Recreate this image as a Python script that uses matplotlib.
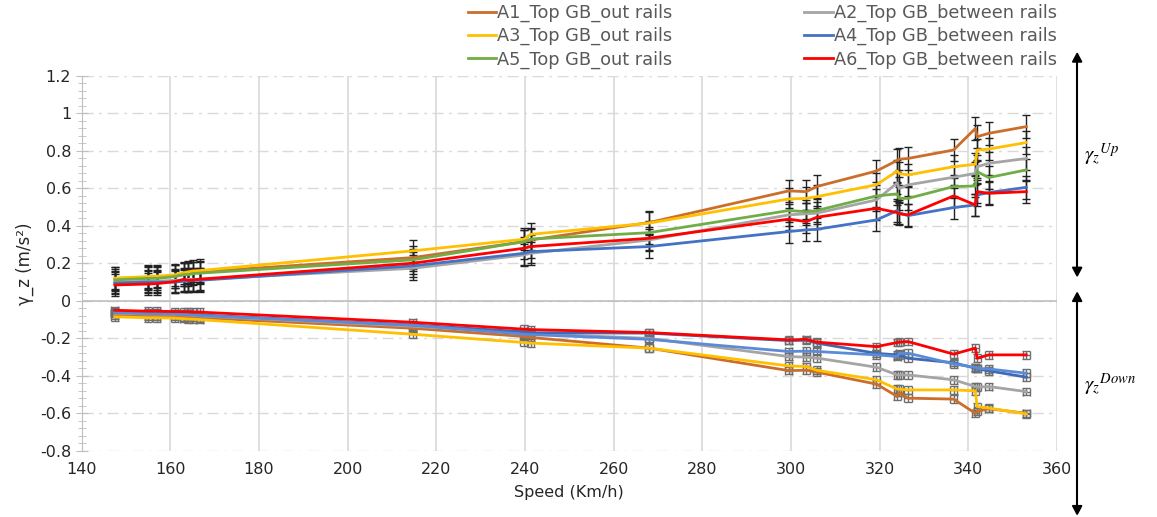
import matplotlib.pyplot as plt
import numpy as np

# speeds (km/h) of the measured runs
speed = [147.5, 155, 157, 161, 163, 164, 165.2, 166.7, 214.7, 239.8, 241.3, 268,
         299.5, 303.5, 305.8, 319.3, 324.0, 324.4, 326.4, 336.7, 341.6, 342.0, 344.6, 353.1]

# upward acceleration
a1_up = [0.12, 0.125, 0.127, 0.13, 0.14, 0.15, 0.15, 0.155, 0.231, 0.316, 0.325, 0.418,
         0.587, 0.583, 0.61, 0.693, 0.75, 0.756, 0.76, 0.805, 0.92, 0.876, 0.894, 0.93]
a2_up = [0.10, 0.105, 0.105, 0.11, 0.11, 0.115, 0.115, 0.115, 0.174, 0.245, 0.254, 0.325,
         0.459, 0.465, 0.468, 0.539, 0.63, 0.60, 0.619, 0.66, 0.68, 0.716, 0.734, 0.76]
a3_up = [0.121, 0.13, 0.132, 0.139, 0.15, 0.155, 0.16, 0.162, 0.267, 0.329, 0.355, 0.415,
         0.544, 0.547, 0.556, 0.62, 0.693, 0.68, 0.672, 0.716, 0.729, 0.805, 0.81, 0.845]
a4_up = [0.095, 0.10, 0.10, 0.10, 0.105, 0.105, 0.11, 0.11, 0.187, 0.254, 0.263, 0.29,
         0.37, 0.379, 0.382, 0.432, 0.482, 0.47, 0.455, 0.498, 0.512, 0.565, 0.578, 0.606]
a5_up = [0.112, 0.12, 0.12, 0.13, 0.14, 0.14, 0.145, 0.148, 0.219, 0.316, 0.33, 0.364,
         0.482, 0.476, 0.482, 0.56, 0.571, 0.547, 0.547, 0.61, 0.613, 0.69, 0.658, 0.699]
a6_up = [0.085, 0.09, 0.092, 0.103, 0.115, 0.11, 0.112, 0.116, 0.201, 0.281, 0.29, 0.334,
         0.436, 0.423, 0.446, 0.494, 0.471, 0.465, 0.459, 0.56, 0.512, 0.583, 0.574, 0.583]

# downward acceleration
a1_down = [-0.075, -0.08, -0.08, -0.082, -0.085, -0.087, -0.088, -0.09, -0.146, -0.19, -0.195, -0.252,
           -0.372, -0.37, -0.38, -0.444, -0.51, -0.49, -0.519, -0.524, -0.6, -0.59, -0.575, -0.6]
a2_down = [-0.065, -0.07, -0.07, -0.072, -0.075, -0.075, -0.078, -0.08, -0.135, -0.17, -0.175, -0.2,
           -0.297, -0.3, -0.305, -0.354, -0.395, -0.395, -0.395, -0.421, -0.457, -0.46, -0.457, -0.484]
a3_down = [-0.085, -0.09, -0.09, -0.092, -0.095, -0.097, -0.098, -0.10, -0.178, -0.222, -0.225, -0.252,
           -0.347, -0.35, -0.37, -0.421, -0.471, -0.471, -0.475, -0.475, -0.48, -0.564, -0.572, -0.603]
a4_down = [-0.06, -0.065, -0.065, -0.068, -0.07, -0.07, -0.072, -0.075, -0.128, -0.165, -0.17, -0.172,
           -0.212, -0.21, -0.225, -0.28, -0.288, -0.29, -0.306, -0.33, -0.359, -0.362, -0.373, -0.407]
a5_down = [-0.062, -0.067, -0.068, -0.07, -0.072, -0.073, -0.075, -0.078, -0.13, -0.178, -0.18, -0.205,
           -0.27, -0.268, -0.27, -0.288, -0.297, -0.28, -0.279, -0.336, -0.355, -0.36, -0.363, -0.386]
a6_down = [-0.05, -0.055, -0.055, -0.057, -0.058, -0.058, -0.06, -0.06, -0.114, -0.151, -0.153, -0.169,
           -0.208, -0.205, -0.22, -0.244, -0.222, -0.22, -0.217, -0.284, -0.252, -0.306, -0.288, -0.288]

labels = ['A1_Top GB_out rails', 'A2_Top GB_between rails', 'A3_Top GB_out rails',
          'A4_Top GB_between rails', 'A5_Top GB_out rails', 'A6_Top GB_between rails']
colors = ['#CC6E2A', '#A5A5A5', '#FFC000', '#4472C4', '#70AD47', '#FF0000']
down_colors = ['#CC6E2A', '#A5A5A5', '#FFC000', '#3F69B5', '#5B8BD6', '#FF0000']

ups = [a1_up, a2_up, a3_up, a4_up, a5_up, a6_up]
downs = [a1_down, a2_down, a3_down, a4_down, a5_down, a6_down]

fig = plt.figure(figsize=(11.57, 5.17), dpi=100)
ax = fig.add_axes([0.0705, 0.128, 0.843, 0.725])

handles = []
for y, c, lab in zip(ups, colors, labels):
    ax.errorbar(speed, y, yerr=0.06, fmt='none', ecolor='#222222', elinewidth=1,
                capsize=3, capthick=1, zorder=3)
    h, = ax.plot(speed, y, color=c, lw=2, label=lab, zorder=4)
    handles.append(h)

for y, c in zip(downs, down_colors):
    ax.errorbar(speed, y, yerr=0.02, xerr=0.8, fmt='none', ecolor='#6E6E6E',
                elinewidth=1, capsize=3, capthick=1, zorder=3)
    ax.plot(speed, y, color=c, lw=2, zorder=4)

ax.set_xlim(140, 360)
ax.set_ylim(-0.8, 1.2)
ax.set_xticks(np.arange(140, 361, 20))
ax.set_yticks(np.round(np.arange(-0.8, 1.21, 0.2), 1))
ax.set_yticklabels(['-0.8', '-0.6', '-0.4', '-0.2', '0', '0.2', '0.4', '0.6', '0.8', '1', '1.2'])
ax.set_yticks(np.arange(-0.8, 1.21, 0.04), minor=True)
ax.tick_params(axis='y', which='both', direction='inout', color='#BFBFBF', length=8,
               labelsize=11.5, labelcolor='#262626')
ax.tick_params(axis='y', which='minor', length=6)
ax.tick_params(axis='x', length=0, labelsize=11.5, pad=8, labelcolor='#262626')

ax.grid(axis='x', color='#D9D9D9', lw=1.2)
ax.grid(axis='y', which='major', color='#D9D9D9', lw=1, ls=(0, (8, 4, 2, 4)))
ax.axhline(0, color='#BFBFBF', lw=1.2, zorder=2)
for s in ['top', 'right', 'bottom']:
    ax.spines[s].set_visible(False)
ax.spines['left'].set_color('#BFBFBF')
ax.set_axisbelow(True)

ax.set_xlabel('Speed (Km/h)', fontsize=11.5, labelpad=6, color='#262626')
ax.set_ylabel('γ_z (m/s²)', fontsize=12, labelpad=4, color='#262626')

order = [0, 2, 4, 1, 3, 5]
fig.legend([handles[i] for i in order], [labels[i] for i in order], ncol=2,
           loc='upper left', bbox_to_anchor=(0.403, 0.996), frameon=False,
           fontsize=12.8, handlelength=1.6, handletextpad=0.05, columnspacing=7.4,
           labelspacing=0.28, labelcolor='#595959', borderaxespad=0, borderpad=0.1)

# up / down arrows on the right
plt.rcParams['mathtext.fontset'] = 'stix'
fig.add_artist(plt.Line2D([0.931, 0.931], [0.47, 0.88], color='black', lw=1.5))
fig.patches.append(plt.Polygon([[0.927, 0.88], [0.935, 0.88], [0.931, 0.897]],
                               closed=True, color='black', transform=fig.transFigure))
fig.patches.append(plt.Polygon([[0.927, 0.483], [0.935, 0.483], [0.931, 0.466]],
                               closed=True, color='black', transform=fig.transFigure))
fig.add_artist(plt.Line2D([0.931, 0.931], [0.02, 0.42], color='black', lw=1.5))
fig.patches.append(plt.Polygon([[0.927, 0.417], [0.935, 0.417], [0.931, 0.434]],
                               closed=True, color='black', transform=fig.transFigure))
fig.patches.append(plt.Polygon([[0.927, 0.022], [0.935, 0.022], [0.931, 0.005]],
                               closed=True, color='black', transform=fig.transFigure))
fig.text(0.937, 0.69, r'$\gamma_z{}^{Up}$', fontsize=15)
fig.text(0.937, 0.245, r'$\gamma_z{}^{Down}$', fontsize=15)

fig.savefig('out.png', dpi=100)
